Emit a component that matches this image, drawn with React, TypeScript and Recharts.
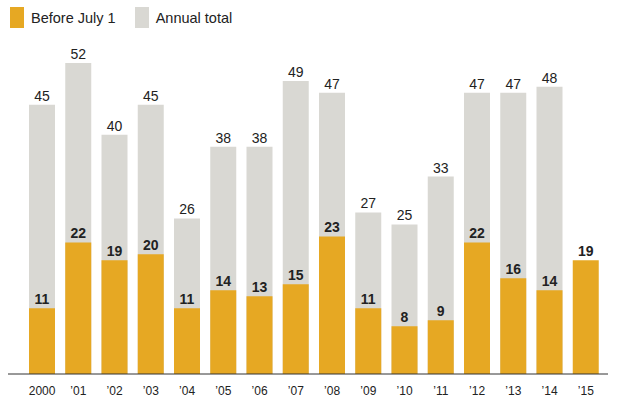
import React from 'react';
import { BarChart, Bar, XAxis, YAxis, LabelList } from 'recharts';

const years = ['2000', '’01', '’02', '’03', '’04', '’05', '’06', '’07', '’08', '’09', '’10', '’11', '’12', '’13', '’14', '’15'];
const beforeJuly1 = [11, 22, 19, 20, 11, 14, 13, 15, 23, 11, 8, 9, 22, 16, 14, 19];
const annualTotal: (number | null)[] = [45, 52, 40, 45, 26, 38, 38, 49, 47, 27, 25, 33, 47, 47, 48, null];

const ORANGE = '#E6A823';
const GRAY = '#D9D8D3';
const TEXT = '#222';
const FONT = '"Liberation Sans", Arial, Helvetica, sans-serif';

const data = years.map((y, i) => ({ year: y, before: beforeJuly1[i], total: annualTotal[i] }));

export default function App() {
  return (
    <div style={{ position: 'absolute', left: 0, top: 0, width: 620, height: 403, background: '#fff', fontFamily: FONT }}>
      <div style={{ position: 'absolute', left: 10, top: 7, display: 'flex', alignItems: 'center', fontSize: 14.5, color: TEXT }}>
        <span style={{ display: 'inline-block', width: 14, height: 21, background: ORANGE }} />
        <span style={{ marginLeft: 7 }}>Before July 1</span>
        <span style={{ display: 'inline-block', width: 14, height: 21, background: GRAY, marginLeft: 19 }} />
        <span style={{ marginLeft: 7 }}>Annual total</span>
      </div>
      <BarChart
        width={620}
        height={403}
        data={data}
        margin={{ top: 45, right: 12, bottom: 0, left: 8 }}
        style={{ position: 'absolute', left: 0, top: 0 }}
      >
        <XAxis
          xAxisId="a"
          dataKey="year"
          height={29}
          padding={{ left: 16, right: 4 }}
          tickLine={false}
          axisLine={{ stroke: '#333', strokeWidth: 1 }}
          tick={{ fill: TEXT, fontSize: 12, fontFamily: FONT }}
          tickMargin={6}
          interval={0}
        />
        <XAxis xAxisId="b" dataKey="year" hide padding={{ left: 16, right: 4 }} />
        <YAxis hide domain={[0, 55]} />
        <Bar xAxisId="b" dataKey="total" fill={GRAY} barSize={26} isAnimationActive={false}>
          <LabelList dataKey="total" position="top" offset={4} fill={TEXT} fontSize={14} fontFamily={FONT} />
        </Bar>
        <Bar xAxisId="a" dataKey="before" fill={ORANGE} barSize={26} isAnimationActive={false}>
          <LabelList dataKey="before" position="top" offset={4} fill={TEXT} fontSize={14} fontWeight="bold" fontFamily={FONT} />
        </Bar>
      </BarChart>
    </div>
  );
}
